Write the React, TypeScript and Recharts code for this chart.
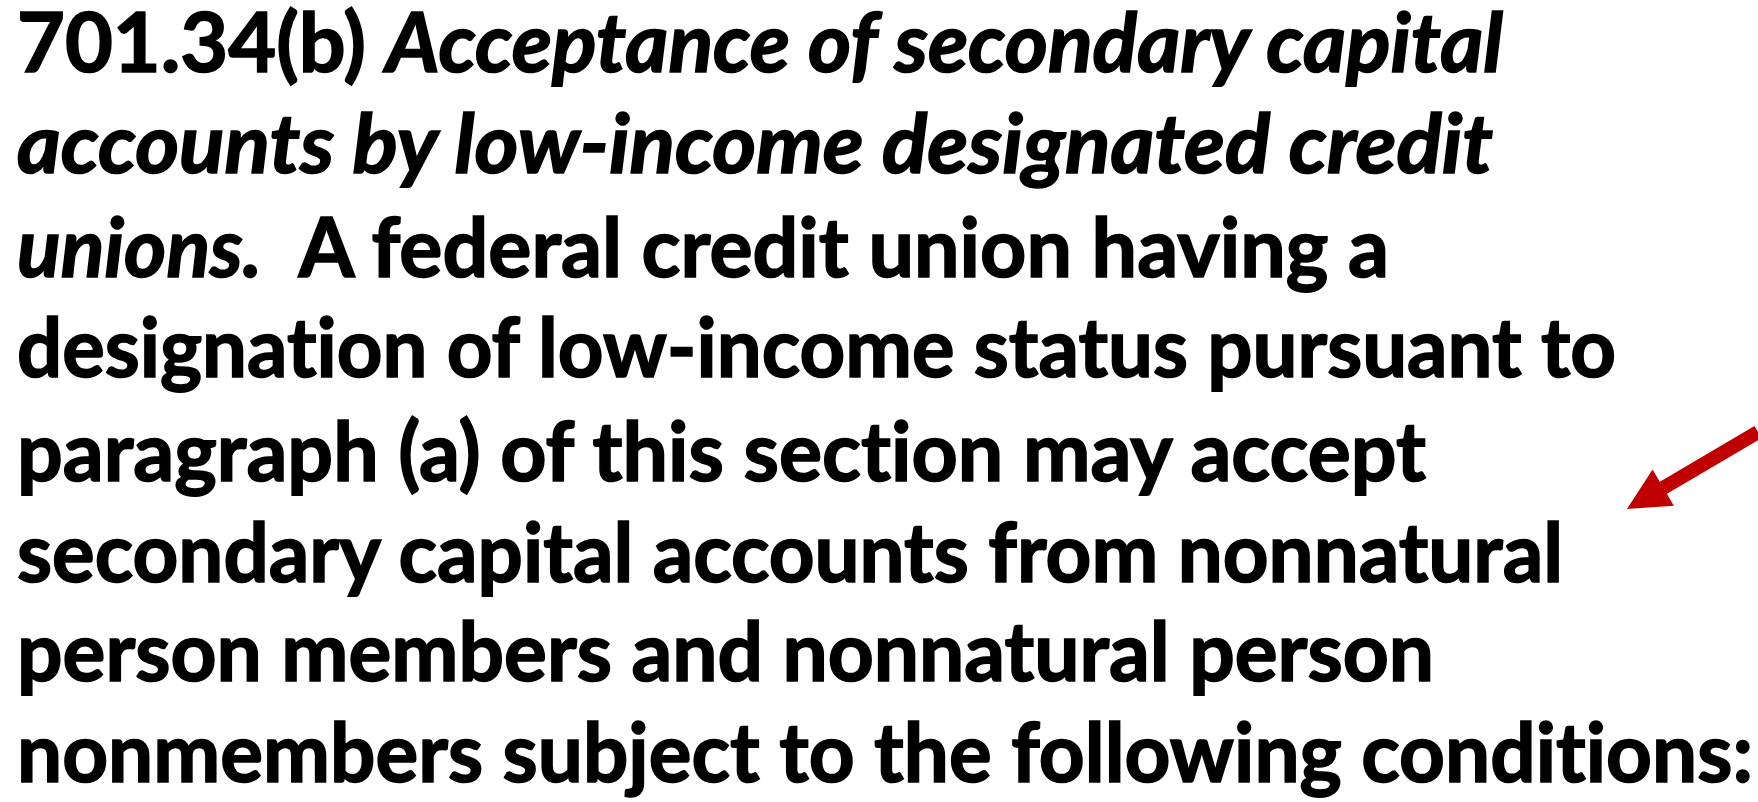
import { ScatterChart, Scatter, XAxis, YAxis } from 'recharts';

const W = 1758;
const H = 802;

// one entry per text line, segments carry bold-italic flag
const LINES = [
  [{ t: '701.34(b) ', i: false }, { t: 'Acceptance of secondary capital', i: true }],
  [{ t: 'accounts by low-income designated credit', i: true }],
  [{ t: 'unions.', i: true }, { t: '  A federal credit union having a', i: false }],
  [{ t: 'designation of low-income status pursuant to', i: false }],
  [{ t: 'paragraph (a) of this section may accept', i: false }],
  [{ t: 'secondary capital accounts from nonnatural', i: false }],
  [{ t: 'person members and nonnatural person', i: false }],
  [{ t: 'nonmembers subject to the following conditions:', i: false }],
];

// baseline of each line (px from top) and its left edge
const BASELINES = [72, 173, 277, 377, 481, 582, 681, 782];
const TEXT_X = 17;
// measured line widths in the reference
const LINE_WIDTHS = [1486, 1476, 1372, 1599, 1409, 1546, 1417, 1736];

// arrow: tail at the slide edge, tip pointing into the text
const ARROW_SHAFT = [
  { x: 1758, y: 432 },
  { x: 1663, y: 488 },
];
const ARROW_TIP = [{ x: 1627, y: 509 }];

const textData = LINES.map((segs, k) => ({ x: TEXT_X, y: BASELINES[k], segs, w: LINE_WIDTHS[k] }));

const FONT = 'Lato, "Open Sans", sans-serif';
const RED = '#c00000';

const TextLine = (props: any) => {
  const { cx, cy, payload } = props;
  return (
    <text
      x={cx}
      y={cy}
      fontFamily={FONT}
      fontWeight={700}
      fontSize={82}
      fill="#000"
      stroke="#000"
      strokeWidth={1.6}
      textLength={payload.w}
      lengthAdjust="spacingAndGlyphs"
      style={{ whiteSpace: 'pre', fontVariantLigatures: 'none' }}
    >
      {payload.segs.map((s: any, j: number) => (
        <tspan key={j} fontStyle={s.i ? 'italic' : 'normal'}>
          {s.t}
        </tspan>
      ))}
    </text>
  );
};

const ArrowHead = (props: any) => {
  const { cx, cy } = props;
  // direction from tip back toward the tail
  const dx = ARROW_SHAFT[0].x - ARROW_TIP[0].x;
  const dy = ARROW_SHAFT[0].y - ARROW_TIP[0].y;
  const len = Math.sqrt(dx * dx + dy * dy);
  const ux = dx / len;
  const uy = dy / len;
  const headLen = 42;
  const half = 21;
  const bx = cx + ux * headLen;
  const by = cy + uy * headLen;
  const p1 = `${bx - uy * half},${by + ux * half}`;
  const p2 = `${bx + uy * half},${by - ux * half}`;
  return <polygon points={`${cx},${cy} ${p1} ${p2}`} fill={RED} />;
};

export default function App() {
  return (
    <div style={{ position: 'fixed', left: 0, top: 0, width: W, height: H, background: '#fff' }}>
      <ScatterChart width={W} height={H} margin={{ top: 0, right: 0, bottom: 0, left: 0 }}>
        <XAxis type="number" dataKey="x" domain={[0, W]} allowDataOverflow hide />
        <YAxis type="number" dataKey="y" domain={[0, H]} reversed allowDataOverflow hide />
        <Scatter
          data={ARROW_SHAFT}
          line={{ stroke: RED, strokeWidth: 14 }}
          shape={() => <g />}
          isAnimationActive={false}
        />
        <Scatter data={ARROW_TIP} shape={ArrowHead} isAnimationActive={false} />
        <Scatter data={textData} shape={TextLine} isAnimationActive={false} />
      </ScatterChart>
    </div>
  );
}
